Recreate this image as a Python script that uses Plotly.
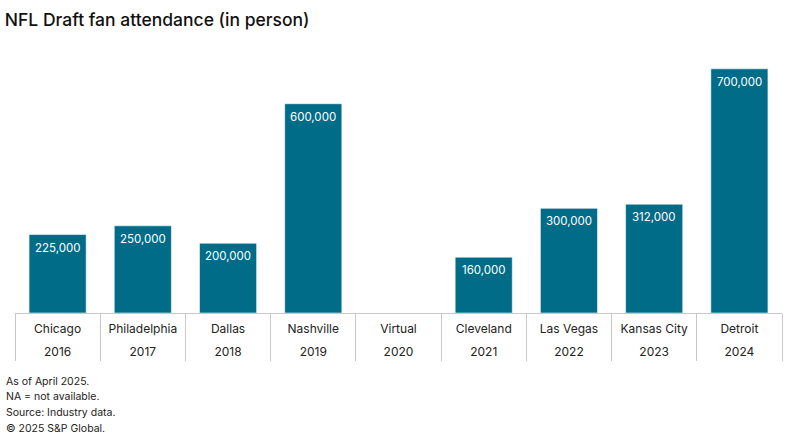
import plotly.graph_objects as go

cities = ["Chicago", "Philadelphia", "Dallas", "Nashville", "Virtual", "Cleveland", "Las Vegas", "Kansas City", "Detroit"]
years = ["2016", "2017", "2018", "2019", "2020", "2021", "2022", "2023", "2024"]
attendance = [225000, 250000, 200000, 600000, None, 160000, 300000, 312000, 700000]

labels = ["" if v is None else f"{v:,}" for v in attendance]
idx = list(range(len(cities)))
bounds = [i - 0.5 for i in range(len(cities) + 1)]
xr = [-0.5, len(cities) - 0.5]

FONT = "Inter"
GRID = "#c8c8c8"
fig = go.Figure()
fig.add_trace(go.Bar(
    x=idx,
    y=attendance,
    hoverinfo="skip",
    marker=dict(color="#006C87", line=dict(color="rgba(255,255,255,0.55)", width=1)),
    width=0.67,
))
# value labels just inside the top of each bar
for i, v, t in zip(idx, attendance, labels):
    if v is None:
        continue
    fig.add_annotation(x=i, y=v, text=t, showarrow=False, yanchor="middle", yshift=-13,
                       font=dict(color="white", size=11.5, family=FONT))
# invisible helper traces so the overlay axes (dividers, year labels) are drawn
for ax in ("x2", "x3"):
    fig.add_trace(go.Scatter(x=idx, y=[0] * len(idx), xaxis=ax, yaxis="y", mode="markers",
                             marker=dict(opacity=0), hoverinfo="skip", showlegend=False))

fig.update_layout(
    width=797, height=445,
    margin=dict(l=15, r=15, t=50, b=132),
    plot_bgcolor="white", paper_bgcolor="white",
    showlegend=False,
    title=dict(text="NFL Draft fan attendance (in person)", x=0.006, xanchor="left", y=0.955, yanchor="middle",
               font=dict(family=FONT, size=17.5, color="#111111", weight=500)),
    xaxis=dict(range=xr, tickmode="array", tickvals=idx, ticktext=cities, ticks="",
               showline=True, linecolor=GRID, linewidth=1, showgrid=False, zeroline=False,
               tickfont=dict(family=FONT, size=12, color="#222222"), ticklabelstandoff=5,
               automargin=False),
    xaxis2=dict(range=xr, overlaying="x", side="bottom", anchor="y", tickmode="array",
                tickvals=bounds, ticks="outside", ticklen=47, tickcolor=GRID, tickwidth=1,
                showticklabels=False, showgrid=False, zeroline=False, showline=False, automargin=False),
    xaxis3=dict(range=xr, overlaying="x", side="bottom", anchor="y", tickmode="array",
                tickvals=idx, ticktext=years, ticks="", showgrid=False, zeroline=False, showline=False,
                tickfont=dict(family=FONT, size=12, color="#222222"), ticklabelstandoff=30,
                automargin=False),
    yaxis=dict(visible=False, range=[0, 754000]),
)

notes = ["As of April 2025.", "NA = not available.", "Source: Industry data.", "\u00a9 2025 S&P Global."]
for i, t in enumerate(notes):
    fig.add_annotation(text=t, xref="paper", yref="paper", x=-11 / 767, y=0, xanchor="left", yanchor="middle",
                       yshift=-(381 - 313) - i * 15.7, showarrow=False,
                       font=dict(family=FONT, size=10.5, color="#222222"))

fig.write_html("out.html", config={"displayModeBar": False},
               post_script="document.body.style.margin='0';")
